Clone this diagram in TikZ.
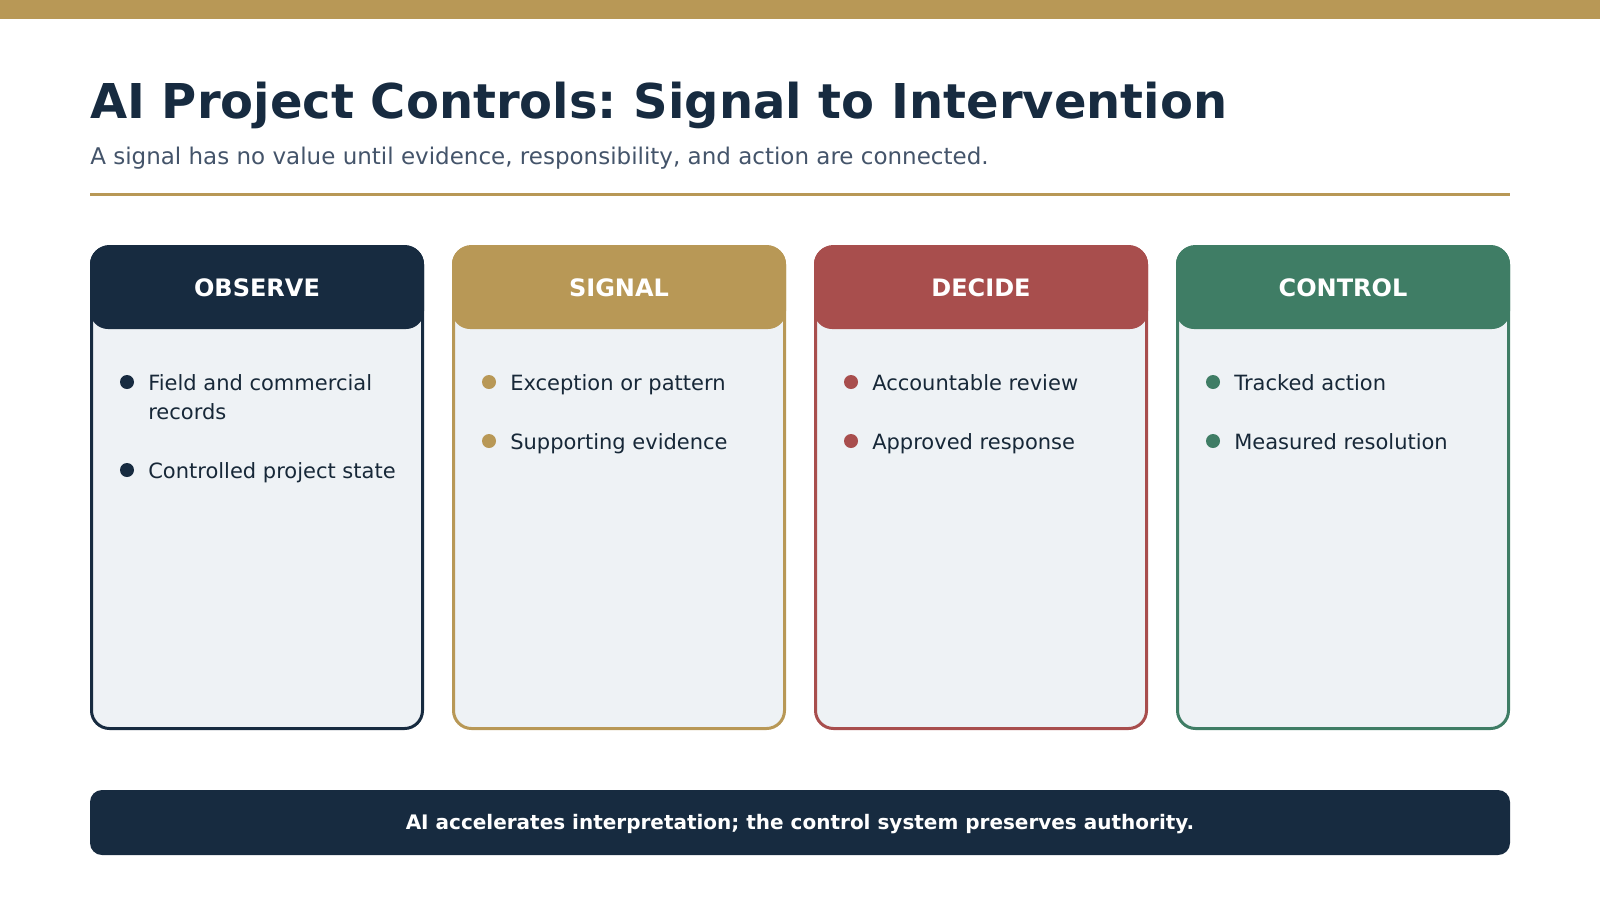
\documentclass[tikz,border=0pt]{standalone}
\usepackage{fontspec}
\setmainfont{DejaVu Sans}
\frenchspacing
\definecolor{navy}{HTML}{172B40}
\definecolor{gold}{HTML}{B89856}
\definecolor{cred}{HTML}{A84E4D}
\definecolor{cgreen}{HTML}{3F7D65}
\definecolor{cardbg}{HTML}{EEF2F5}
\definecolor{subtxt}{HTML}{44546A}
\definecolor{bodytxt}{HTML}{172838}
\begin{document}
\begin{tikzpicture}[x=0.75pt,y=-0.75pt,
  card/.style={draw=#1, line width=2.25pt, fill=cardbg, rounded corners=13.5pt,
    minimum width=248.25pt, minimum height=361.5pt, inner sep=0pt},
  head/.style={fill=#1, rounded corners=13.5pt, minimum width=250.5pt,
    minimum height=62.25pt, inner sep=0pt, text=white,
    font=\bfseries\fontsize{18}{20}\selectfont},
  dot/.style={circle, fill=#1, minimum size=10.5pt, inner sep=0pt},
  item/.style={anchor=base west, inner sep=0pt, align=left, text=bodytxt,
    font=\fontsize{15.75}{21.75}\selectfont}]
\useasboundingbox (0,0) rectangle (1600,900);
% top bar
\fill[gold] (0,0) rectangle (1600,18.5);
% title and subtitle
\node[anchor=base west, inner sep=0pt, text=navy, font=\bfseries\fontsize{36}{40}\selectfont]
  (title) at (90,118) {AI Project Controls: Signal to Intervention};
\node[anchor=base west, inner sep=0pt, text=subtxt, font=\fontsize{17.25}{20}\selectfont]
  (subtitle) at (90,164) {A signal has no value until evidence, responsibility, and action are connected.};
\coordinate (ruleL) at (90,194);
\coordinate (ruleR) at (1510,194);
\draw[gold, line width=2.25pt] (ruleL) -- (ruleR);
% cards
\foreach \i/\nm/\col/\ttl in {0/obs/navy/OBSERVE, 1/sig/gold/SIGNAL, 2/dec/cred/DECIDE, 3/ctl/cgreen/CONTROL}{
  \node[card=\col] (\nm) at ({257+362*\i},487.5) {};
  \node[head=\col] (\nm-head) at ({257+362*\i},287.5) {\ttl};
}
% OBSERVE items (base anchor of a two-line node is its last baseline)
\node[dot=navy] (obs-d1) at (127,382) {};
\node[item] (obs-t1) at (148,419) {Field and commercial\\records};
\node[dot=navy] (obs-d2) at (127,470) {};
\node[item] (obs-t2) at (148,478) {Controlled project state};
% SIGNAL items
\node[dot=gold] (sig-d1) at (489,382) {};
\node[item] (sig-t1) at (510,390) {Exception or pattern};
\node[dot=gold] (sig-d2) at (489,441) {};
\node[item] (sig-t2) at (510,449) {Supporting evidence};
% DECIDE items
\node[dot=cred] (dec-d1) at (851,382) {};
\node[item] (dec-t1) at (872,390) {Accountable review};
\node[dot=cred] (dec-d2) at (851,441) {};
\node[item] (dec-t2) at (872,449) {Approved response};
% CONTROL items
\node[dot=cgreen] (ctl-d1) at (1213,382) {};
\node[item] (ctl-t1) at (1234,390) {Tracked action};
\node[dot=cgreen] (ctl-d2) at (1213,441) {};
\node[item] (ctl-t2) at (1234,449) {Measured resolution};
% bottom banner
\node[fill=navy, rounded corners=9pt, minimum width=1065pt, minimum height=48.75pt,
  inner sep=0pt] (banner) at (800,822.5) {};
\node[anchor=base, inner sep=0pt, text=white, font=\bfseries\fontsize{15}{18}\selectfont]
  (banner-text) at (800,829.5) {AI accelerates interpretation; the control system preserves authority.};
\end{tikzpicture}
\end{document}
